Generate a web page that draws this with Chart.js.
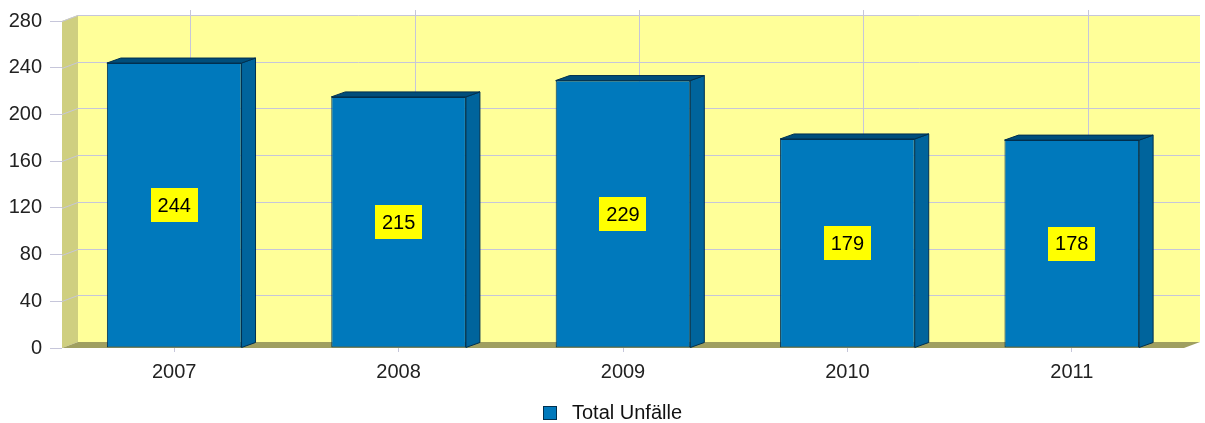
<!DOCTYPE html>
<html>
<head>
<meta charset="utf-8">
<script src="https://cdn.jsdelivr.net/npm/chart.js@4/dist/chart.umd.min.js"></script>
<style>
html,body{margin:0;padding:0;background:#fff;}
#wrap{width:1205px;height:423px;}
</style>
</head>
<body>
<div id="wrap"><canvas id="c" width="1205" height="423"></canvas></div>
<script>
const categories = ['2007', '2008', '2009', '2010', '2011'];
const seriesLabel = 'Total Unfälle';
const values = [244, 215, 229, 179, 178];
const yTicks = [0, 40, 80, 120, 160, 200, 240, 280];

const FONT = '"Liberation Sans", Arial, sans-serif';
const WALL_DX = 16, WALL_DY = -6;
const BAR_DX = 14, BAR_DY = -5;
const GRID = '#c6c6da';

const walls3d = {
  id: 'walls3d',
  beforeDatasetsDraw(chart) {
    const ctx = chart.ctx, a = chart.chartArea;
    const y = chart.scales.y, x = chart.scales.x;
    ctx.save();
    // back wall
    ctx.fillStyle = '#ffff99';
    ctx.fillRect(a.left + WALL_DX, a.top + WALL_DY, a.right - a.left, a.bottom - a.top);
    // left wall
    ctx.fillStyle = '#cfcf80';
    ctx.beginPath();
    ctx.moveTo(a.left, a.top);
    ctx.lineTo(a.left + WALL_DX, a.top + WALL_DY);
    ctx.lineTo(a.left + WALL_DX, a.bottom + WALL_DY);
    ctx.lineTo(a.left, a.bottom);
    ctx.closePath();
    ctx.fill();
    // floor
    ctx.fillStyle = '#9f9f60';
    ctx.beginPath();
    ctx.moveTo(a.left, a.bottom);
    ctx.lineTo(a.left + WALL_DX, a.bottom + WALL_DY);
    ctx.lineTo(a.right + WALL_DX, a.bottom + WALL_DY);
    ctx.lineTo(a.right, a.bottom);
    ctx.closePath();
    ctx.fill();
    // grid lines
    ctx.strokeStyle = GRID;
    ctx.lineWidth = 1;
    yTicks.forEach(v => {
      if (v === 0) return;
      const py = Math.round(y.getPixelForValue(v)) + 0.5;
      ctx.beginPath();
      ctx.moveTo(a.left, py);
      ctx.lineTo(a.left + WALL_DX, py + WALL_DY);
      ctx.lineTo(a.right + WALL_DX, py + WALL_DY);
      ctx.stroke();
    });
    categories.forEach((c, i) => {
      const px = Math.round(x.getPixelForValue(i) + WALL_DX) + 0.5;
      ctx.beginPath();
      ctx.moveTo(px, a.top + WALL_DY - 5);
      ctx.lineTo(px, a.bottom + WALL_DY);
      ctx.stroke();
    });
    ctx.restore();
  },
  afterDatasetsDraw(chart) {
    const ctx = chart.ctx;
    const meta = chart.getDatasetMeta(0);
    ctx.save();
    ctx.lineWidth = 1;
    ctx.strokeStyle = '#00304f';
    meta.data.forEach((bar, i) => {
      const l = bar.x - bar.width / 2, r = bar.x + bar.width / 2;
      const t = bar.y, b = bar.base;
      // side
      ctx.fillStyle = '#00649c';
      ctx.beginPath();
      ctx.moveTo(r, t);
      ctx.lineTo(r + BAR_DX, t + BAR_DY);
      ctx.lineTo(r + BAR_DX, b + BAR_DY);
      ctx.lineTo(r, b);
      ctx.closePath();
      ctx.fill(); ctx.stroke();
      // top
      ctx.fillStyle = '#004e7b';
      ctx.beginPath();
      ctx.moveTo(l, t);
      ctx.lineTo(l + BAR_DX, t + BAR_DY);
      ctx.lineTo(r + BAR_DX, t + BAR_DY);
      ctx.lineTo(r, t);
      ctx.closePath();
      ctx.fill(); ctx.stroke();
      // data label
      const txt = String(chart.data.datasets[0].data[i]);
      ctx.font = '20px ' + FONT;
      const w = ctx.measureText(txt).width + 14;
      const h = 34;
      const cy = (t + b) / 2;
      ctx.fillStyle = '#ffff00';
      ctx.fillRect(Math.round(bar.x - w / 2), Math.round(cy - h / 2), Math.round(w), h);
      ctx.fillStyle = '#000';
      ctx.textAlign = 'center';
      ctx.textBaseline = 'middle';
      ctx.fillText(txt, bar.x, cy + 1);
    });
    // legend
    const ds = chart.data.datasets[0];
    ctx.fillStyle = ds.backgroundColor;
    ctx.strokeStyle = '#00304f';
    ctx.fillRect(543.5, 406.5, 13, 13);
    ctx.strokeRect(543.5, 406.5, 13, 13);
    ctx.fillStyle = '#111';
    ctx.font = '20px ' + FONT;
    ctx.textAlign = 'left';
    ctx.textBaseline = 'middle';
    ctx.fillText(ds.label, 572, 413);
    ctx.restore();
  }
};

new Chart(document.getElementById('c'), {
  type: 'bar',
  data: {
    labels: categories,
    datasets: [{
      label: seriesLabel,
      data: values,
      backgroundColor: '#0079bc',
      borderColor: '#00304f',
      borderWidth: 1,
      borderSkipped: false,
      categoryPercentage: 1,
      barPercentage: 0.6
    }]
  },
  options: {
    responsive: false,
    animation: false,
    events: [],
    layout: { padding: { left: 0, right: 21, top: 21, bottom: 35 } },
    plugins: { legend: { display: false }, tooltip: { enabled: false } },
    scales: {
      x: {
        grid: { drawOnChartArea: false, offset: false, tickLength: 4, color: GRID },
        border: { display: false },
        ticks: { color: '#222', font: { family: FONT, size: 20 }, padding: 8, maxRotation: 0 },
        afterFit(s) { s.height = 40; }
      },
      y: {
        min: 0, max: 280,
        afterBuildTicks(s) { s.ticks = yTicks.map(v => ({ value: v })); },
        grid: { drawOnChartArea: false, tickLength: 12, color: GRID },
        border: { display: false },
        ticks: { color: '#222', font: { family: FONT, size: 20 }, padding: 8 },
        afterFit(s) { s.width = 62; }
      }
    }
  },
  plugins: [walls3d]
});
</script>
</body>
</html>
